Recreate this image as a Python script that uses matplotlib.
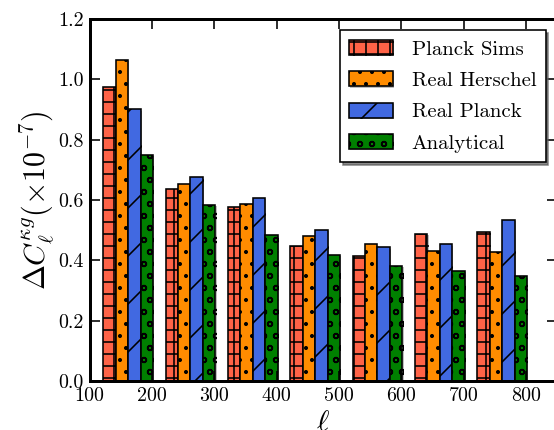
import numpy as np
import matplotlib
matplotlib.use("Agg")
import matplotlib.pyplot as plt
import matplotlib.patheffects as pe

plt.rcParams['font.family'] = 'serif'
plt.rcParams['font.serif'] = ['cmr10']
plt.rcParams['mathtext.fontset'] = 'cm'
plt.rcParams['axes.formatter.use_mathtext'] = True
plt.rcParams['hatch.linewidth'] = 0.8

# bin centres in ell and the four estimates (x 1e-7)
ell = np.array([150, 250, 350, 450, 550, 650, 750])
planck_sims = [0.975, 0.636, 0.577, 0.446, 0.414, 0.487, 0.493]
real_herschel = [1.064, 0.654, 0.588, 0.481, 0.453, 0.432, 0.427]
real_planck = [0.900, 0.675, 0.606, 0.500, 0.443, 0.453, 0.533]
analytical = [0.749, 0.584, 0.484, 0.418, 0.381, 0.365, 0.347]

labels = ['Planck Sims', 'Real Herschel', 'Real Planck', 'Analytical']
series = [planck_sims, real_herschel, real_planck, analytical]
colors = ['tomato', 'darkorange', 'royalblue', 'green']
hatches = ['++', '..', '/', 'oo']
xticks = [100, 200, 300, 400, 500, 600, 700, 800]
yticks = [0.0, 0.2, 0.4, 0.6, 0.8, 1.0, 1.2]

dpi = 144
fig = plt.figure(figsize=(554 / dpi, 430 / dpi), dpi=dpi)
ax = fig.add_axes([89.5 / 554, 1 - 381 / 430, (557 - 89.5) / 554, (381 - 19) / 430])

width = 20
shadow = [pe.SimplePatchShadow(offset=(0.6, -0.6), shadow_rgbFace='gray', alpha=0.5), pe.Normal()]
for k, (vals, lab, c, h) in enumerate(zip(series, labels, colors, hatches)):
    bars = ax.bar(ell - 28 + k * width, vals, width=width, align='edge', color=c,
                  edgecolor='black', linewidth=0.8, hatch=h, label=lab)
    for b in bars:
        b.set_path_effects(shadow)

ax.set_xlim(100, 850)
ax.set_ylim(0, 1.2)
ax.set_xticks(xticks)
ax.set_xticklabels([str(t) for t in xticks])
ax.set_yticks(yticks)
ax.set_yticklabels(['%.1f' % v for v in yticks])
ax.tick_params(direction='in', length=5, width=0.8, labelsize=10, top=True, right=True, pad=3)
for s in ax.spines.values():
    s.set_linewidth(1.5)

ax.set_xlabel(r'$\ell$', fontsize=15, labelpad=2)
ax.set_ylabel(r'$\Delta C_{\ell}^{\kappa g}(\times 10^{-7})$', fontsize=15, labelpad=1)

leg = ax.legend(loc='upper right', fontsize=10.4, fancybox=False,
                shadow={'ox': 1.4, 'oy': -1.4, 'color': '0.35', 'alpha': 0.7},
                handlelength=2.1, handleheight=0.75, labelspacing=0.6, borderaxespad=0.55,
                handletextpad=0.9, borderpad=0.45)
leg.get_frame().set_edgecolor('black')
leg.get_frame().set_linewidth(0.8)

fig.savefig('out.png', dpi=dpi)
